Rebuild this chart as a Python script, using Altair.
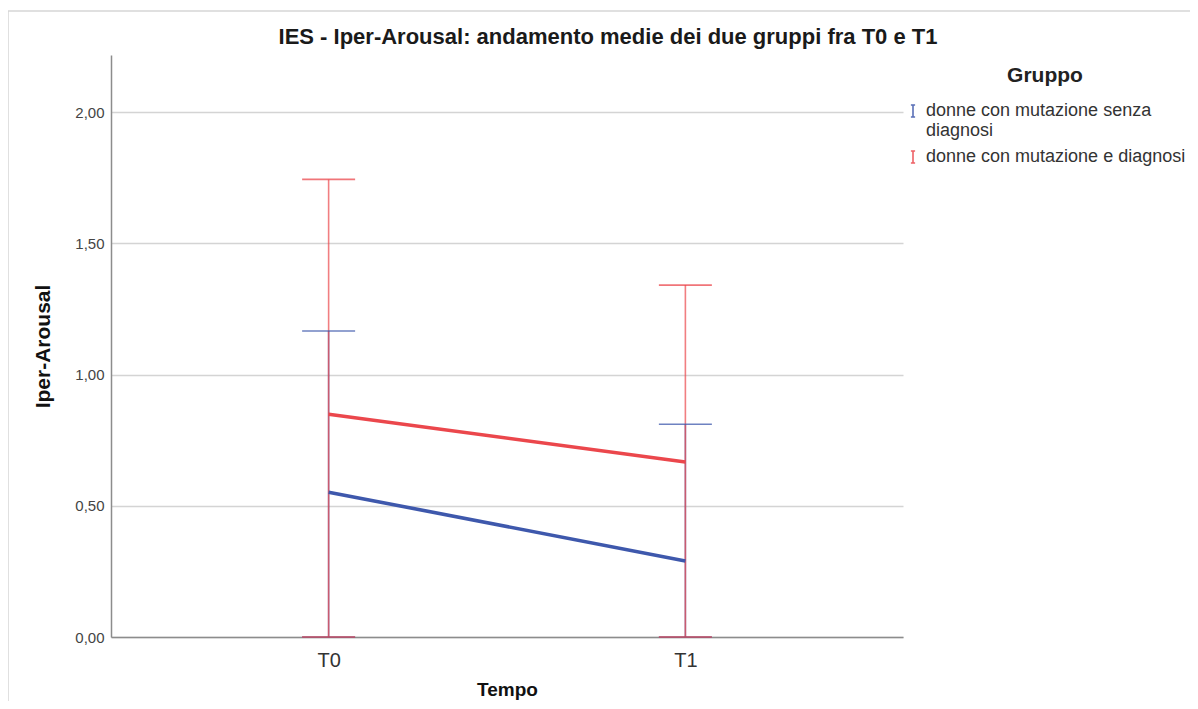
import altair as alt
import pandas as pd

tempo = ["T0", "T1"]
gruppi = ["donne con mutazione senza diagnosi", "donne con mutazione e diagnosi"]
media_senza = [0.552, 0.290]
media_con = [0.849, 0.667]
sup_senza = [1.166, 0.811]
sup_con = [1.744, 1.341]
inf_senza = [0.0, 0.0]
inf_con = [0.0, 0.0]
colori = ["#3e58ac", "#eb474c"]
y_ticks = [0.0, 0.5, 1.0, 1.5, 2.0]

rows = []
for g, m, s, i in [(gruppi[0], media_senza, sup_senza, inf_senza),
                   (gruppi[1], media_con, sup_con, inf_con)]:
    for t, mm, ss, ii in zip(tempo, m, s, i):
        rows.append(dict(Tempo=t, Gruppo=g, media=mm, sup=ss, inf=ii,
                         ordine=gruppi.index(g)))
df = pd.DataFrame(rows)

FONT = "Liberation Sans"

x_enc = alt.X(
    "Tempo:N",
    sort=tempo,
    scale=alt.Scale(type="point", padding=0.61),
    axis=alt.Axis(
        title="Tempo", titleFontSize=19, titleFontWeight="bold", titleColor="#111",
        titlePadding=10, labelFontSize=20, labelColor="#333", labelPadding=13,
        ticks=False, labelAngle=0, domainColor="#8c8c8c", domainWidth=1.5,
        grid=False,
    ),
)
y_scale = alt.Scale(domain=[0, 2.218], nice=False, zero=True)
y_axis = alt.Axis(
    title="Iper-Arousal", titleFontSize=21, titleFontWeight="bold", titleColor="#111",
    titlePadding=21, values=y_ticks,
    labelExpr="replace(format(datum.value, '.2f'), '.', ',')",
    labelFontSize=15, labelColor="#444", labelPadding=7, ticks=False,
    domainColor="#8c8c8c", domainWidth=1.5, grid=True, gridColor="#d4d4d4",
    gridWidth=1.5,
)
color_enc = alt.Color(
    "Gruppo:N",
    scale=alt.Scale(domain=gruppi, range=colori),
    legend=alt.Legend(
        title="Gruppo", orient="none", legendX=793, legendY=10,
        titleFontSize=21, titleFontWeight="bold", titleColor="#222",
        titleAnchor="middle", titlePadding=16,
        labelFontSize=18, labelColor="#333", labelLimit=400,
        labelExpr="datum.label == 'donne con mutazione senza diagnosi' ? ['donne con mutazione senza', 'diagnosi'] : datum.label",
        symbolType="M-0.35,-1H0.35M0,-1V1M-0.35,1H0.35",
        symbolSize=144, symbolStrokeWidth=1.6, symbolFillColor="transparent",
        symbolOpacity=0.85, rowPadding=7,
    ),
)

base = alt.Chart(df)

rules = base.mark_rule(strokeWidth=1.6, opacity=0.7).encode(
    x=x_enc,
    y=alt.Y("inf:Q", scale=y_scale, axis=y_axis),
    y2="sup:Q",
    color=color_enc,
    order="ordine:Q",
)
cap_top = base.mark_tick(size=53, thickness=1.6, opacity=0.75).encode(
    x=x_enc, y=alt.Y("sup:Q", scale=y_scale), color=color_enc,
)
cap_bot = base.mark_tick(size=53, thickness=1.6, opacity=0.75).encode(
    x=x_enc, y=alt.Y("inf:Q", scale=y_scale), color=color_enc,
)
lines = base.mark_line(strokeWidth=3.6).encode(
    x=x_enc, y=alt.Y("media:Q", scale=y_scale), color=color_enc,
    detail="Gruppo:N",
)

frame = alt.Chart(pd.DataFrame({"f": [0]})).mark_rect(
    fill=None, stroke="#d6d6d6", strokeWidth=1.5
).encode(
    x=alt.value(-103), x2=alt.value(1200), y=alt.value(-44), y2=alt.value(800)
)

chart = alt.layer(frame, rules, cap_bot, cap_top, lines).properties(
    width=792, height=582,
    padding={"left": 103, "top": 47, "right": 287, "bottom": 64},
    autosize=alt.AutoSizeParams(type="none"),
    title=alt.TitleParams(
        "IES - Iper-Arousal: andamento medie dei due gruppi fra T0 e T1",
        fontSize=22, fontWeight="bold", color="#1a1a1a", anchor="middle",
        frame="group", dx=101, dy=47, offset=8, font=FONT,
    ),
).configure(font=FONT).configure_view(stroke=None)

chart.save("out.html", embed_options={"renderer": "svg", "actions": False})
